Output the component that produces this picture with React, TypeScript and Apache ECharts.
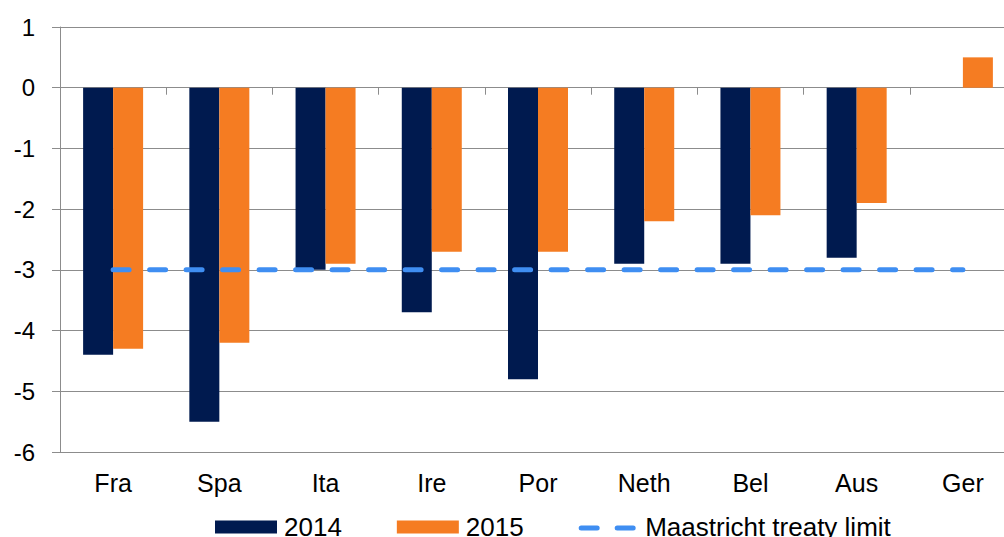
import React, { useEffect, useRef } from "react";
import * as echarts from "echarts";

const categories = ["Fra", "Spa", "Ita", "Ire", "Por", "Neth", "Bel", "Aus", "Ger"];
const values2014 = [-4.4, -5.5, -3.0, -3.7, -4.8, -2.9, -2.9, -2.8, 0];
const values2015 = [-4.3, -4.2, -2.9, -2.7, -2.7, -2.2, -2.1, -1.9, 0.5];
const maastricht = [-3, -3, -3, -3, -3, -3, -3, -3, -3];

const FONT = "Liberation Sans, Arial, sans-serif";
const GRID_COLOR = "#8c8c8c";
const LINE_COLOR = "#3f8ef2";

const dashIcon =
  "path://M0,0L0.01,0L0.01,0.01Z M57,13L56.99,13L56.99,12.99Z " +
  "M2.5,5L18.5,5A2.5,2.5,0,0,1,18.5,10L2.5,10A2.5,2.5,0,0,1,2.5,5Z " +
  "M38.5,5L54.5,5A2.5,2.5,0,0,1,54.5,10L38.5,10A2.5,2.5,0,0,1,38.5,5Z";

export default function App() {
  const ref = useRef<HTMLDivElement>(null);
  useEffect(() => {
    if (!ref.current) return;
    const chart = echarts.init(ref.current, undefined, { renderer: "svg" });
    chart.setOption({
      animation: false,
      textStyle: { fontFamily: FONT },
      grid: { left: 60, right: 4, top: 27, bottom: 85, containLabel: false },
      legend: {
        left: 215,
        top: 514,
        padding: 0,
        itemWidth: 62,
        itemHeight: 13,
        itemGap: 55,
        textStyle: { fontSize: 26, color: "#000", fontFamily: FONT, padding: [0, 0, 0, 2] },
        data: [
          { name: "2014", icon: "rect" },
          { name: "2015", icon: "rect" },
          { name: "Maastricht treaty limit", icon: dashIcon, itemStyle: { color: LINE_COLOR } },
        ],
      },
      xAxis: [
        {
          type: "category",
          data: categories,
          position: "bottom",
          axisLine: { onZero: true, lineStyle: { color: GRID_COLOR, width: 1 } },
          axisTick: { show: true, length: 7, lineStyle: { color: GRID_COLOR } },
          axisLabel: { show: false },
        },
        {
          type: "category",
          data: categories,
          position: "bottom",
          axisLine: { show: false, onZero: false },
          axisTick: { show: false },
          axisLabel: { show: true, margin: 18, fontSize: 25, color: "#000", fontFamily: FONT },
        },
      ],
      yAxis: {
        type: "value",
        min: -6,
        max: 1,
        interval: 1,
        axisLine: { show: true, lineStyle: { color: GRID_COLOR } },
        axisTick: { show: true, length: 8, lineStyle: { color: GRID_COLOR } },
        axisLabel: { fontSize: 24, color: "#000", margin: 25, fontFamily: FONT },
        splitLine: { show: true, lineStyle: { color: GRID_COLOR, width: 1 } },
      },
      series: [
        {
          name: "2014",
          type: "bar",
          data: values2014,
          xAxisIndex: 0,
          barWidth: 30,
          barGap: "0%",
          itemStyle: { color: "#001a4f" },
        },
        {
          name: "2015",
          type: "bar",
          data: values2015,
          xAxisIndex: 0,
          barWidth: 30,
          barGap: "0%",
          itemStyle: { color: "#f57c22" },
        },
        {
          name: "Maastricht treaty limit",
          type: "line",
          data: maastricht,
          xAxisIndex: 0,
          symbol: "none",
          z: 5,
          itemStyle: { color: LINE_COLOR },
          lineStyle: { color: LINE_COLOR, width: 5, type: [16, 20.5], cap: "round" },
        },
      ],
    });
    return () => chart.dispose();
  }, []);
  return (
    <div style={{ width: 1004, height: 537, position: "absolute", left: 0, top: 0, overflow: "hidden" }}>
      <div ref={ref} style={{ width: 1020, height: 537 }} />
    </div>
  );
}
